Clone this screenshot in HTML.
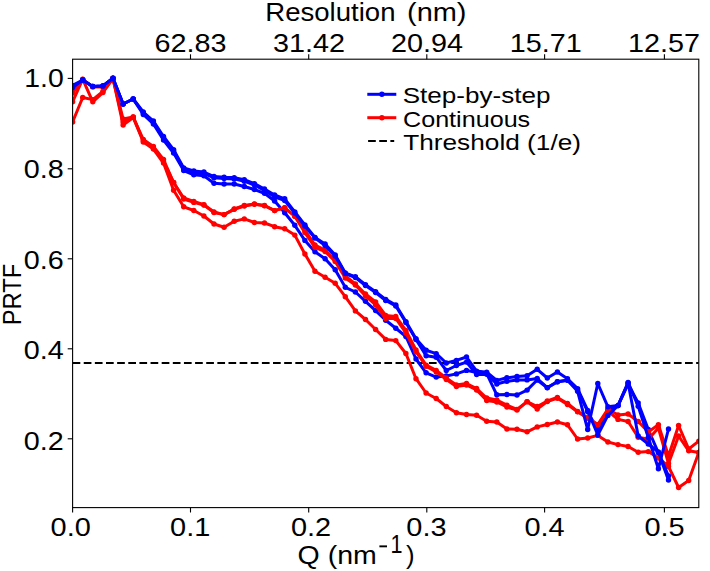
<!DOCTYPE html>
<html><head><meta charset="utf-8"><style>
html,body{margin:0;padding:0;background:#fff;width:710px;height:571px;overflow:hidden;font-family:"Liberation Sans",sans-serif;}
svg{display:block;}
</style></head><body>
<svg width="710" height="571" viewBox="0 0 710 571">
<rect width="710" height="571" fill="#fff"/>
<defs><clipPath id="c"><rect x="72.6" y="59.2" width="626.1999999999999" height="448.40000000000003"/></clipPath></defs>
<g clip-path="url(#c)">
<line x1="72.6" y1="363.0" x2="698.8" y2="363.0" stroke="#000" stroke-width="2.2" stroke-dasharray="7.7 3.435"/>
<polyline points="72.6,89.5 82.7,80.0 92.8,86.4 102.9,85.9 113.0,78.2 123.1,104.0 133.2,99.0 143.3,114.5 153.4,124.0 163.5,140.0 173.6,153.0 183.7,170.5 193.8,174.8 203.9,175.8 214.0,183.2 224.1,184.0 234.2,184.0 244.3,186.5 254.4,189.5 264.5,193.3 274.6,201.0 284.7,212.8 294.8,225.3 304.9,240.4 315.0,251.8 325.1,258.8 335.2,269.8 345.3,287.3 355.4,292.0 365.5,301.3 375.6,310.6 385.7,320.2 395.8,328.2 405.9,336.5 416.0,359.0 426.1,372.8 436.2,377.1 446.3,376.0 456.4,373.9 466.5,370.4 476.6,372.5 486.7,373.6 496.8,394.8 506.9,394.5 517.0,395.0 527.1,390.1 537.2,380.0 547.3,387.7 557.4,381.8 567.5,380.2 577.6,390.0 587.7,411.7 597.8,430.0 607.9,410.0 618.0,405.6 628.1,384.0 638.2,403.0 648.3,429.5 658.4,452.8 668.5,480.0" fill="none" stroke="#0000ff" stroke-width="3.0" stroke-linejoin="round" stroke-linecap="butt"/>
<circle cx="72.6" cy="89.5" r="2.7" fill="#0000ff"/><circle cx="82.7" cy="80.0" r="2.7" fill="#0000ff"/><circle cx="92.8" cy="86.4" r="2.7" fill="#0000ff"/><circle cx="102.9" cy="85.9" r="2.7" fill="#0000ff"/><circle cx="113.0" cy="78.2" r="2.7" fill="#0000ff"/><circle cx="123.1" cy="104.0" r="2.7" fill="#0000ff"/><circle cx="133.2" cy="99.0" r="2.7" fill="#0000ff"/><circle cx="143.3" cy="114.5" r="2.7" fill="#0000ff"/><circle cx="153.4" cy="124.0" r="2.7" fill="#0000ff"/><circle cx="163.5" cy="140.0" r="2.7" fill="#0000ff"/><circle cx="173.6" cy="153.0" r="2.7" fill="#0000ff"/><circle cx="183.7" cy="170.5" r="2.7" fill="#0000ff"/><circle cx="193.8" cy="174.8" r="2.7" fill="#0000ff"/><circle cx="203.9" cy="175.8" r="2.7" fill="#0000ff"/><circle cx="214.0" cy="183.2" r="2.7" fill="#0000ff"/><circle cx="224.1" cy="184.0" r="2.7" fill="#0000ff"/><circle cx="234.2" cy="184.0" r="2.7" fill="#0000ff"/><circle cx="244.3" cy="186.5" r="2.7" fill="#0000ff"/><circle cx="254.4" cy="189.5" r="2.7" fill="#0000ff"/><circle cx="264.5" cy="193.3" r="2.7" fill="#0000ff"/><circle cx="274.6" cy="201.0" r="2.7" fill="#0000ff"/><circle cx="284.7" cy="212.8" r="2.7" fill="#0000ff"/><circle cx="294.8" cy="225.3" r="2.7" fill="#0000ff"/><circle cx="304.9" cy="240.4" r="2.7" fill="#0000ff"/><circle cx="315.0" cy="251.8" r="2.7" fill="#0000ff"/><circle cx="325.1" cy="258.8" r="2.7" fill="#0000ff"/><circle cx="335.2" cy="269.8" r="2.7" fill="#0000ff"/><circle cx="345.3" cy="287.3" r="2.7" fill="#0000ff"/><circle cx="355.4" cy="292.0" r="2.7" fill="#0000ff"/><circle cx="365.5" cy="301.3" r="2.7" fill="#0000ff"/><circle cx="375.6" cy="310.6" r="2.7" fill="#0000ff"/><circle cx="385.7" cy="320.2" r="2.7" fill="#0000ff"/><circle cx="395.8" cy="328.2" r="2.7" fill="#0000ff"/><circle cx="405.9" cy="336.5" r="2.7" fill="#0000ff"/><circle cx="416.0" cy="359.0" r="2.7" fill="#0000ff"/><circle cx="426.1" cy="372.8" r="2.7" fill="#0000ff"/><circle cx="436.2" cy="377.1" r="2.7" fill="#0000ff"/><circle cx="446.3" cy="376.0" r="2.7" fill="#0000ff"/><circle cx="456.4" cy="373.9" r="2.7" fill="#0000ff"/><circle cx="466.5" cy="370.4" r="2.7" fill="#0000ff"/><circle cx="476.6" cy="372.5" r="2.7" fill="#0000ff"/><circle cx="486.7" cy="373.6" r="2.7" fill="#0000ff"/><circle cx="496.8" cy="394.8" r="2.7" fill="#0000ff"/><circle cx="506.9" cy="394.5" r="2.7" fill="#0000ff"/><circle cx="517.0" cy="395.0" r="2.7" fill="#0000ff"/><circle cx="527.1" cy="390.1" r="2.7" fill="#0000ff"/><circle cx="537.2" cy="380.0" r="2.7" fill="#0000ff"/><circle cx="547.3" cy="387.7" r="2.7" fill="#0000ff"/><circle cx="557.4" cy="381.8" r="2.7" fill="#0000ff"/><circle cx="567.5" cy="380.2" r="2.7" fill="#0000ff"/><circle cx="577.6" cy="390.0" r="2.7" fill="#0000ff"/><circle cx="587.7" cy="411.7" r="2.7" fill="#0000ff"/><circle cx="597.8" cy="430.0" r="2.7" fill="#0000ff"/><circle cx="607.9" cy="410.0" r="2.7" fill="#0000ff"/><circle cx="618.0" cy="405.6" r="2.7" fill="#0000ff"/><circle cx="628.1" cy="384.0" r="2.7" fill="#0000ff"/><circle cx="638.2" cy="403.0" r="2.7" fill="#0000ff"/><circle cx="648.3" cy="429.5" r="2.7" fill="#0000ff"/><circle cx="658.4" cy="452.8" r="2.7" fill="#0000ff"/><circle cx="668.5" cy="480.0" r="2.7" fill="#0000ff"/>
<polyline points="72.6,93.0 82.7,79.5 92.8,87.0 102.9,87.0 113.0,78.5 123.1,119.0 133.2,117.0 143.3,139.5 153.4,146.5 163.5,159.5 173.6,182.5 183.7,198.0 193.8,201.5 203.9,204.8 214.0,212.0 224.1,214.6 234.2,209.0 244.3,205.5 254.4,204.0 264.5,205.5 274.6,210.6 284.7,207.8 294.8,216.2 304.9,230.2 315.0,245.0 325.1,250.0 335.2,260.0 345.3,276.0 355.4,284.0 365.5,294.0 375.6,302.0 385.7,315.5 395.8,316.5 405.9,330.5 416.0,350.0 426.1,365.2 436.2,370.4 446.3,378.0 456.4,385.0 466.5,383.5 476.6,388.5 486.7,398.0 496.8,400.0 506.9,405.1 517.0,409.4 527.1,401.6 537.2,406.5 547.3,401.0 557.4,397.5 567.5,403.5 577.6,411.5 587.7,417.8 597.8,424.6 607.9,409.0 618.0,415.0 628.1,414.0 638.2,421.5 648.3,432.0 658.4,424.6 668.5,456.0 678.6,425.5 688.7,449.0 698.8,441.1 708.9,431.0" fill="none" stroke="#ff0000" stroke-width="3.0" stroke-linejoin="round" stroke-linecap="butt"/>
<circle cx="72.6" cy="93.0" r="2.7" fill="#ff0000"/><circle cx="82.7" cy="79.5" r="2.7" fill="#ff0000"/><circle cx="92.8" cy="87.0" r="2.7" fill="#ff0000"/><circle cx="102.9" cy="87.0" r="2.7" fill="#ff0000"/><circle cx="113.0" cy="78.5" r="2.7" fill="#ff0000"/><circle cx="123.1" cy="119.0" r="2.7" fill="#ff0000"/><circle cx="133.2" cy="117.0" r="2.7" fill="#ff0000"/><circle cx="143.3" cy="139.5" r="2.7" fill="#ff0000"/><circle cx="153.4" cy="146.5" r="2.7" fill="#ff0000"/><circle cx="163.5" cy="159.5" r="2.7" fill="#ff0000"/><circle cx="173.6" cy="182.5" r="2.7" fill="#ff0000"/><circle cx="183.7" cy="198.0" r="2.7" fill="#ff0000"/><circle cx="193.8" cy="201.5" r="2.7" fill="#ff0000"/><circle cx="203.9" cy="204.8" r="2.7" fill="#ff0000"/><circle cx="214.0" cy="212.0" r="2.7" fill="#ff0000"/><circle cx="224.1" cy="214.6" r="2.7" fill="#ff0000"/><circle cx="234.2" cy="209.0" r="2.7" fill="#ff0000"/><circle cx="244.3" cy="205.5" r="2.7" fill="#ff0000"/><circle cx="254.4" cy="204.0" r="2.7" fill="#ff0000"/><circle cx="264.5" cy="205.5" r="2.7" fill="#ff0000"/><circle cx="274.6" cy="210.6" r="2.7" fill="#ff0000"/><circle cx="284.7" cy="207.8" r="2.7" fill="#ff0000"/><circle cx="294.8" cy="216.2" r="2.7" fill="#ff0000"/><circle cx="304.9" cy="230.2" r="2.7" fill="#ff0000"/><circle cx="315.0" cy="245.0" r="2.7" fill="#ff0000"/><circle cx="325.1" cy="250.0" r="2.7" fill="#ff0000"/><circle cx="335.2" cy="260.0" r="2.7" fill="#ff0000"/><circle cx="345.3" cy="276.0" r="2.7" fill="#ff0000"/><circle cx="355.4" cy="284.0" r="2.7" fill="#ff0000"/><circle cx="365.5" cy="294.0" r="2.7" fill="#ff0000"/><circle cx="375.6" cy="302.0" r="2.7" fill="#ff0000"/><circle cx="385.7" cy="315.5" r="2.7" fill="#ff0000"/><circle cx="395.8" cy="316.5" r="2.7" fill="#ff0000"/><circle cx="405.9" cy="330.5" r="2.7" fill="#ff0000"/><circle cx="416.0" cy="350.0" r="2.7" fill="#ff0000"/><circle cx="426.1" cy="365.2" r="2.7" fill="#ff0000"/><circle cx="436.2" cy="370.4" r="2.7" fill="#ff0000"/><circle cx="446.3" cy="378.0" r="2.7" fill="#ff0000"/><circle cx="456.4" cy="385.0" r="2.7" fill="#ff0000"/><circle cx="466.5" cy="383.5" r="2.7" fill="#ff0000"/><circle cx="476.6" cy="388.5" r="2.7" fill="#ff0000"/><circle cx="486.7" cy="398.0" r="2.7" fill="#ff0000"/><circle cx="496.8" cy="400.0" r="2.7" fill="#ff0000"/><circle cx="506.9" cy="405.1" r="2.7" fill="#ff0000"/><circle cx="517.0" cy="409.4" r="2.7" fill="#ff0000"/><circle cx="527.1" cy="401.6" r="2.7" fill="#ff0000"/><circle cx="537.2" cy="406.5" r="2.7" fill="#ff0000"/><circle cx="547.3" cy="401.0" r="2.7" fill="#ff0000"/><circle cx="557.4" cy="397.5" r="2.7" fill="#ff0000"/><circle cx="567.5" cy="403.5" r="2.7" fill="#ff0000"/><circle cx="577.6" cy="411.5" r="2.7" fill="#ff0000"/><circle cx="587.7" cy="417.8" r="2.7" fill="#ff0000"/><circle cx="597.8" cy="424.6" r="2.7" fill="#ff0000"/><circle cx="607.9" cy="409.0" r="2.7" fill="#ff0000"/><circle cx="618.0" cy="415.0" r="2.7" fill="#ff0000"/><circle cx="628.1" cy="414.0" r="2.7" fill="#ff0000"/><circle cx="638.2" cy="421.5" r="2.7" fill="#ff0000"/><circle cx="648.3" cy="432.0" r="2.7" fill="#ff0000"/><circle cx="658.4" cy="424.6" r="2.7" fill="#ff0000"/><circle cx="668.5" cy="456.0" r="2.7" fill="#ff0000"/><circle cx="678.6" cy="425.5" r="2.7" fill="#ff0000"/><circle cx="688.7" cy="449.0" r="2.7" fill="#ff0000"/><circle cx="698.8" cy="441.1" r="2.7" fill="#ff0000"/><circle cx="708.9" cy="431.0" r="2.7" fill="#ff0000"/>
<polyline points="72.6,101.8 82.7,79.2 92.8,101.8 102.9,92.6 113.0,78.5 123.1,122.0 133.2,117.0 143.3,141.0 153.4,148.0 163.5,161.5 173.6,182.5 183.7,199.0 193.8,202.4 203.9,205.0 214.0,212.5 224.1,214.6 234.2,209.3 244.3,206.0 254.4,204.3 264.5,205.7 274.6,210.6 284.7,207.8 294.8,216.2 304.9,232.6 315.0,247.3 325.1,251.5 335.2,261.5 345.3,278.0 355.4,285.0 365.5,296.0 375.6,305.0 385.7,318.5 395.8,318.5 405.9,333.0 416.0,351.7 426.1,366.2 436.2,371.9 446.3,379.5 456.4,386.5 466.5,385.0 476.6,390.0 486.7,400.5 496.8,402.0 506.9,407.0 517.0,410.1 527.1,401.7 537.2,409.0 547.3,401.6 557.4,398.2 567.5,404.5 577.6,411.7 587.7,418.3 597.8,424.9 607.9,411.0 618.0,419.4 628.1,421.5 638.2,437.2 648.3,439.3 658.4,428.0 668.5,463.5 678.6,436.0 688.7,450.8 698.8,452.5 708.9,454.0" fill="none" stroke="#ff0000" stroke-width="3.0" stroke-linejoin="round" stroke-linecap="butt"/>
<circle cx="72.6" cy="101.8" r="2.7" fill="#ff0000"/><circle cx="82.7" cy="79.2" r="2.7" fill="#ff0000"/><circle cx="92.8" cy="101.8" r="2.7" fill="#ff0000"/><circle cx="102.9" cy="92.6" r="2.7" fill="#ff0000"/><circle cx="113.0" cy="78.5" r="2.7" fill="#ff0000"/><circle cx="123.1" cy="122.0" r="2.7" fill="#ff0000"/><circle cx="133.2" cy="117.0" r="2.7" fill="#ff0000"/><circle cx="143.3" cy="141.0" r="2.7" fill="#ff0000"/><circle cx="153.4" cy="148.0" r="2.7" fill="#ff0000"/><circle cx="163.5" cy="161.5" r="2.7" fill="#ff0000"/><circle cx="173.6" cy="182.5" r="2.7" fill="#ff0000"/><circle cx="183.7" cy="199.0" r="2.7" fill="#ff0000"/><circle cx="193.8" cy="202.4" r="2.7" fill="#ff0000"/><circle cx="203.9" cy="205.0" r="2.7" fill="#ff0000"/><circle cx="214.0" cy="212.5" r="2.7" fill="#ff0000"/><circle cx="224.1" cy="214.6" r="2.7" fill="#ff0000"/><circle cx="234.2" cy="209.3" r="2.7" fill="#ff0000"/><circle cx="244.3" cy="206.0" r="2.7" fill="#ff0000"/><circle cx="254.4" cy="204.3" r="2.7" fill="#ff0000"/><circle cx="264.5" cy="205.7" r="2.7" fill="#ff0000"/><circle cx="274.6" cy="210.6" r="2.7" fill="#ff0000"/><circle cx="284.7" cy="207.8" r="2.7" fill="#ff0000"/><circle cx="294.8" cy="216.2" r="2.7" fill="#ff0000"/><circle cx="304.9" cy="232.6" r="2.7" fill="#ff0000"/><circle cx="315.0" cy="247.3" r="2.7" fill="#ff0000"/><circle cx="325.1" cy="251.5" r="2.7" fill="#ff0000"/><circle cx="335.2" cy="261.5" r="2.7" fill="#ff0000"/><circle cx="345.3" cy="278.0" r="2.7" fill="#ff0000"/><circle cx="355.4" cy="285.0" r="2.7" fill="#ff0000"/><circle cx="365.5" cy="296.0" r="2.7" fill="#ff0000"/><circle cx="375.6" cy="305.0" r="2.7" fill="#ff0000"/><circle cx="385.7" cy="318.5" r="2.7" fill="#ff0000"/><circle cx="395.8" cy="318.5" r="2.7" fill="#ff0000"/><circle cx="405.9" cy="333.0" r="2.7" fill="#ff0000"/><circle cx="416.0" cy="351.7" r="2.7" fill="#ff0000"/><circle cx="426.1" cy="366.2" r="2.7" fill="#ff0000"/><circle cx="436.2" cy="371.9" r="2.7" fill="#ff0000"/><circle cx="446.3" cy="379.5" r="2.7" fill="#ff0000"/><circle cx="456.4" cy="386.5" r="2.7" fill="#ff0000"/><circle cx="466.5" cy="385.0" r="2.7" fill="#ff0000"/><circle cx="476.6" cy="390.0" r="2.7" fill="#ff0000"/><circle cx="486.7" cy="400.5" r="2.7" fill="#ff0000"/><circle cx="496.8" cy="402.0" r="2.7" fill="#ff0000"/><circle cx="506.9" cy="407.0" r="2.7" fill="#ff0000"/><circle cx="517.0" cy="410.1" r="2.7" fill="#ff0000"/><circle cx="527.1" cy="401.7" r="2.7" fill="#ff0000"/><circle cx="537.2" cy="409.0" r="2.7" fill="#ff0000"/><circle cx="547.3" cy="401.6" r="2.7" fill="#ff0000"/><circle cx="557.4" cy="398.2" r="2.7" fill="#ff0000"/><circle cx="567.5" cy="404.5" r="2.7" fill="#ff0000"/><circle cx="577.6" cy="411.7" r="2.7" fill="#ff0000"/><circle cx="587.7" cy="418.3" r="2.7" fill="#ff0000"/><circle cx="597.8" cy="424.9" r="2.7" fill="#ff0000"/><circle cx="607.9" cy="411.0" r="2.7" fill="#ff0000"/><circle cx="618.0" cy="419.4" r="2.7" fill="#ff0000"/><circle cx="628.1" cy="421.5" r="2.7" fill="#ff0000"/><circle cx="638.2" cy="437.2" r="2.7" fill="#ff0000"/><circle cx="648.3" cy="439.3" r="2.7" fill="#ff0000"/><circle cx="658.4" cy="428.0" r="2.7" fill="#ff0000"/><circle cx="668.5" cy="463.5" r="2.7" fill="#ff0000"/><circle cx="678.6" cy="436.0" r="2.7" fill="#ff0000"/><circle cx="688.7" cy="450.8" r="2.7" fill="#ff0000"/><circle cx="698.8" cy="452.5" r="2.7" fill="#ff0000"/><circle cx="708.9" cy="454.0" r="2.7" fill="#ff0000"/>
<polyline points="72.6,122.0 82.7,97.5 92.8,99.6 102.9,91.5 113.0,78.5 123.1,125.0 133.2,117.5 143.3,142.0 153.4,149.0 163.5,163.0 173.6,190.2 183.7,206.8 193.8,210.5 203.9,216.0 214.0,224.0 224.1,227.3 234.2,221.3 244.3,218.9 254.4,222.5 264.5,223.0 274.6,226.7 284.7,228.8 294.8,235.1 304.9,254.0 315.0,271.3 325.1,277.2 335.2,283.3 345.3,296.7 355.4,310.9 365.5,319.5 375.6,329.5 385.7,339.4 395.8,340.6 405.9,353.5 416.0,378.7 426.1,393.0 436.2,398.5 446.3,406.5 456.4,412.7 466.5,414.5 476.6,415.2 486.7,421.2 496.8,422.0 506.9,429.0 517.0,429.2 527.1,431.8 537.2,426.9 547.3,424.5 557.4,422.0 567.5,424.8 577.6,439.0 587.7,438.0 597.8,435.4 607.9,442.0 618.0,444.6 628.1,446.5 638.2,452.2 648.3,451.6 658.4,458.0 668.5,466.5 678.6,487.5 688.7,480.5 698.8,452.5 708.9,423.0" fill="none" stroke="#ff0000" stroke-width="3.0" stroke-linejoin="round" stroke-linecap="butt"/>
<circle cx="72.6" cy="122.0" r="2.7" fill="#ff0000"/><circle cx="82.7" cy="97.5" r="2.7" fill="#ff0000"/><circle cx="92.8" cy="99.6" r="2.7" fill="#ff0000"/><circle cx="102.9" cy="91.5" r="2.7" fill="#ff0000"/><circle cx="113.0" cy="78.5" r="2.7" fill="#ff0000"/><circle cx="123.1" cy="125.0" r="2.7" fill="#ff0000"/><circle cx="133.2" cy="117.5" r="2.7" fill="#ff0000"/><circle cx="143.3" cy="142.0" r="2.7" fill="#ff0000"/><circle cx="153.4" cy="149.0" r="2.7" fill="#ff0000"/><circle cx="163.5" cy="163.0" r="2.7" fill="#ff0000"/><circle cx="173.6" cy="190.2" r="2.7" fill="#ff0000"/><circle cx="183.7" cy="206.8" r="2.7" fill="#ff0000"/><circle cx="193.8" cy="210.5" r="2.7" fill="#ff0000"/><circle cx="203.9" cy="216.0" r="2.7" fill="#ff0000"/><circle cx="214.0" cy="224.0" r="2.7" fill="#ff0000"/><circle cx="224.1" cy="227.3" r="2.7" fill="#ff0000"/><circle cx="234.2" cy="221.3" r="2.7" fill="#ff0000"/><circle cx="244.3" cy="218.9" r="2.7" fill="#ff0000"/><circle cx="254.4" cy="222.5" r="2.7" fill="#ff0000"/><circle cx="264.5" cy="223.0" r="2.7" fill="#ff0000"/><circle cx="274.6" cy="226.7" r="2.7" fill="#ff0000"/><circle cx="284.7" cy="228.8" r="2.7" fill="#ff0000"/><circle cx="294.8" cy="235.1" r="2.7" fill="#ff0000"/><circle cx="304.9" cy="254.0" r="2.7" fill="#ff0000"/><circle cx="315.0" cy="271.3" r="2.7" fill="#ff0000"/><circle cx="325.1" cy="277.2" r="2.7" fill="#ff0000"/><circle cx="335.2" cy="283.3" r="2.7" fill="#ff0000"/><circle cx="345.3" cy="296.7" r="2.7" fill="#ff0000"/><circle cx="355.4" cy="310.9" r="2.7" fill="#ff0000"/><circle cx="365.5" cy="319.5" r="2.7" fill="#ff0000"/><circle cx="375.6" cy="329.5" r="2.7" fill="#ff0000"/><circle cx="385.7" cy="339.4" r="2.7" fill="#ff0000"/><circle cx="395.8" cy="340.6" r="2.7" fill="#ff0000"/><circle cx="405.9" cy="353.5" r="2.7" fill="#ff0000"/><circle cx="416.0" cy="378.7" r="2.7" fill="#ff0000"/><circle cx="426.1" cy="393.0" r="2.7" fill="#ff0000"/><circle cx="436.2" cy="398.5" r="2.7" fill="#ff0000"/><circle cx="446.3" cy="406.5" r="2.7" fill="#ff0000"/><circle cx="456.4" cy="412.7" r="2.7" fill="#ff0000"/><circle cx="466.5" cy="414.5" r="2.7" fill="#ff0000"/><circle cx="476.6" cy="415.2" r="2.7" fill="#ff0000"/><circle cx="486.7" cy="421.2" r="2.7" fill="#ff0000"/><circle cx="496.8" cy="422.0" r="2.7" fill="#ff0000"/><circle cx="506.9" cy="429.0" r="2.7" fill="#ff0000"/><circle cx="517.0" cy="429.2" r="2.7" fill="#ff0000"/><circle cx="527.1" cy="431.8" r="2.7" fill="#ff0000"/><circle cx="537.2" cy="426.9" r="2.7" fill="#ff0000"/><circle cx="547.3" cy="424.5" r="2.7" fill="#ff0000"/><circle cx="557.4" cy="422.0" r="2.7" fill="#ff0000"/><circle cx="567.5" cy="424.8" r="2.7" fill="#ff0000"/><circle cx="577.6" cy="439.0" r="2.7" fill="#ff0000"/><circle cx="587.7" cy="438.0" r="2.7" fill="#ff0000"/><circle cx="597.8" cy="435.4" r="2.7" fill="#ff0000"/><circle cx="607.9" cy="442.0" r="2.7" fill="#ff0000"/><circle cx="618.0" cy="444.6" r="2.7" fill="#ff0000"/><circle cx="628.1" cy="446.5" r="2.7" fill="#ff0000"/><circle cx="638.2" cy="452.2" r="2.7" fill="#ff0000"/><circle cx="648.3" cy="451.6" r="2.7" fill="#ff0000"/><circle cx="658.4" cy="458.0" r="2.7" fill="#ff0000"/><circle cx="668.5" cy="466.5" r="2.7" fill="#ff0000"/><circle cx="678.6" cy="487.5" r="2.7" fill="#ff0000"/><circle cx="688.7" cy="480.5" r="2.7" fill="#ff0000"/><circle cx="698.8" cy="452.5" r="2.7" fill="#ff0000"/><circle cx="708.9" cy="423.0" r="2.7" fill="#ff0000"/>
<polyline points="72.6,85.5 82.7,80.0 92.8,86.4 102.9,85.9 113.0,78.2 123.1,104.0 133.2,99.0 143.3,112.0 153.4,121.0 163.5,136.5 173.6,149.6 183.7,168.0 193.8,170.9 203.9,172.0 214.0,176.5 224.1,177.3 234.2,177.6 244.3,179.7 254.4,183.6 264.5,189.0 274.6,195.0 284.7,198.8 294.8,212.0 304.9,224.9 315.0,237.5 325.1,244.0 335.2,255.0 345.3,273.0 355.4,276.8 365.5,284.7 375.6,291.7 385.7,299.4 395.8,305.0 405.9,321.6 416.0,338.8 426.1,350.3 436.2,353.6 446.3,363.0 456.4,360.4 466.5,357.0 476.6,371.1 486.7,372.2 496.8,380.4 506.9,377.8 517.0,376.4 527.1,375.7 537.2,369.3 547.3,378.0 557.4,372.0 567.5,378.7 577.6,388.6 587.7,410.5 597.8,435.0 607.9,415.4 618.0,405.6 628.1,382.4 638.2,406.2 648.3,437.5 658.4,468.7 668.5,429.0" fill="none" stroke="#0000ff" stroke-width="3.0" stroke-linejoin="round" stroke-linecap="butt"/>
<circle cx="72.6" cy="85.5" r="2.7" fill="#0000ff"/><circle cx="82.7" cy="80.0" r="2.7" fill="#0000ff"/><circle cx="92.8" cy="86.4" r="2.7" fill="#0000ff"/><circle cx="102.9" cy="85.9" r="2.7" fill="#0000ff"/><circle cx="113.0" cy="78.2" r="2.7" fill="#0000ff"/><circle cx="123.1" cy="104.0" r="2.7" fill="#0000ff"/><circle cx="133.2" cy="99.0" r="2.7" fill="#0000ff"/><circle cx="143.3" cy="112.0" r="2.7" fill="#0000ff"/><circle cx="153.4" cy="121.0" r="2.7" fill="#0000ff"/><circle cx="163.5" cy="136.5" r="2.7" fill="#0000ff"/><circle cx="173.6" cy="149.6" r="2.7" fill="#0000ff"/><circle cx="183.7" cy="168.0" r="2.7" fill="#0000ff"/><circle cx="193.8" cy="170.9" r="2.7" fill="#0000ff"/><circle cx="203.9" cy="172.0" r="2.7" fill="#0000ff"/><circle cx="214.0" cy="176.5" r="2.7" fill="#0000ff"/><circle cx="224.1" cy="177.3" r="2.7" fill="#0000ff"/><circle cx="234.2" cy="177.6" r="2.7" fill="#0000ff"/><circle cx="244.3" cy="179.7" r="2.7" fill="#0000ff"/><circle cx="254.4" cy="183.6" r="2.7" fill="#0000ff"/><circle cx="264.5" cy="189.0" r="2.7" fill="#0000ff"/><circle cx="274.6" cy="195.0" r="2.7" fill="#0000ff"/><circle cx="284.7" cy="198.8" r="2.7" fill="#0000ff"/><circle cx="294.8" cy="212.0" r="2.7" fill="#0000ff"/><circle cx="304.9" cy="224.9" r="2.7" fill="#0000ff"/><circle cx="315.0" cy="237.5" r="2.7" fill="#0000ff"/><circle cx="325.1" cy="244.0" r="2.7" fill="#0000ff"/><circle cx="335.2" cy="255.0" r="2.7" fill="#0000ff"/><circle cx="345.3" cy="273.0" r="2.7" fill="#0000ff"/><circle cx="355.4" cy="276.8" r="2.7" fill="#0000ff"/><circle cx="365.5" cy="284.7" r="2.7" fill="#0000ff"/><circle cx="375.6" cy="291.7" r="2.7" fill="#0000ff"/><circle cx="385.7" cy="299.4" r="2.7" fill="#0000ff"/><circle cx="395.8" cy="305.0" r="2.7" fill="#0000ff"/><circle cx="405.9" cy="321.6" r="2.7" fill="#0000ff"/><circle cx="416.0" cy="338.8" r="2.7" fill="#0000ff"/><circle cx="426.1" cy="350.3" r="2.7" fill="#0000ff"/><circle cx="436.2" cy="353.6" r="2.7" fill="#0000ff"/><circle cx="446.3" cy="363.0" r="2.7" fill="#0000ff"/><circle cx="456.4" cy="360.4" r="2.7" fill="#0000ff"/><circle cx="466.5" cy="357.0" r="2.7" fill="#0000ff"/><circle cx="476.6" cy="371.1" r="2.7" fill="#0000ff"/><circle cx="486.7" cy="372.2" r="2.7" fill="#0000ff"/><circle cx="496.8" cy="380.4" r="2.7" fill="#0000ff"/><circle cx="506.9" cy="377.8" r="2.7" fill="#0000ff"/><circle cx="517.0" cy="376.4" r="2.7" fill="#0000ff"/><circle cx="527.1" cy="375.7" r="2.7" fill="#0000ff"/><circle cx="537.2" cy="369.3" r="2.7" fill="#0000ff"/><circle cx="547.3" cy="378.0" r="2.7" fill="#0000ff"/><circle cx="557.4" cy="372.0" r="2.7" fill="#0000ff"/><circle cx="567.5" cy="378.7" r="2.7" fill="#0000ff"/><circle cx="577.6" cy="388.6" r="2.7" fill="#0000ff"/><circle cx="587.7" cy="410.5" r="2.7" fill="#0000ff"/><circle cx="597.8" cy="435.0" r="2.7" fill="#0000ff"/><circle cx="607.9" cy="415.4" r="2.7" fill="#0000ff"/><circle cx="618.0" cy="405.6" r="2.7" fill="#0000ff"/><circle cx="628.1" cy="382.4" r="2.7" fill="#0000ff"/><circle cx="638.2" cy="406.2" r="2.7" fill="#0000ff"/><circle cx="648.3" cy="437.5" r="2.7" fill="#0000ff"/><circle cx="658.4" cy="468.7" r="2.7" fill="#0000ff"/><circle cx="668.5" cy="429.0" r="2.7" fill="#0000ff"/>
<polyline points="72.6,87.5 82.7,80.0 92.8,86.4 102.9,85.9 113.0,78.2 123.1,104.0 133.2,99.0 143.3,113.0 153.4,122.0 163.5,137.5 173.6,151.0 183.7,169.0 193.8,172.3 203.9,173.4 214.0,177.8 224.1,178.6 234.2,178.9 244.3,181.2 254.4,185.1 264.5,190.5 274.6,196.8 284.7,200.5 294.8,213.0 304.9,226.0 315.0,238.0 325.1,245.5 335.2,256.0 345.3,273.5 355.4,277.5 365.5,285.5 375.6,292.5 385.7,300.5 395.8,306.0 405.9,322.5 416.0,339.5 426.1,355.8 436.2,357.2 446.3,370.5 456.4,365.5 466.5,362.1 476.6,374.6 486.7,374.3 496.8,384.0 506.9,381.3 517.0,379.9 527.1,379.9 537.2,378.5 547.3,387.6 557.4,381.8 567.5,380.2 577.6,391.3 587.7,429.5 597.8,383.5 607.9,406.8 618.0,405.6 628.1,383.0 638.2,436.0 648.3,444.0 658.4,452.0 668.5,476.0" fill="none" stroke="#0000ff" stroke-width="3.0" stroke-linejoin="round" stroke-linecap="butt"/>
<circle cx="72.6" cy="87.5" r="2.7" fill="#0000ff"/><circle cx="82.7" cy="80.0" r="2.7" fill="#0000ff"/><circle cx="92.8" cy="86.4" r="2.7" fill="#0000ff"/><circle cx="102.9" cy="85.9" r="2.7" fill="#0000ff"/><circle cx="113.0" cy="78.2" r="2.7" fill="#0000ff"/><circle cx="123.1" cy="104.0" r="2.7" fill="#0000ff"/><circle cx="133.2" cy="99.0" r="2.7" fill="#0000ff"/><circle cx="143.3" cy="113.0" r="2.7" fill="#0000ff"/><circle cx="153.4" cy="122.0" r="2.7" fill="#0000ff"/><circle cx="163.5" cy="137.5" r="2.7" fill="#0000ff"/><circle cx="173.6" cy="151.0" r="2.7" fill="#0000ff"/><circle cx="183.7" cy="169.0" r="2.7" fill="#0000ff"/><circle cx="193.8" cy="172.3" r="2.7" fill="#0000ff"/><circle cx="203.9" cy="173.4" r="2.7" fill="#0000ff"/><circle cx="214.0" cy="177.8" r="2.7" fill="#0000ff"/><circle cx="224.1" cy="178.6" r="2.7" fill="#0000ff"/><circle cx="234.2" cy="178.9" r="2.7" fill="#0000ff"/><circle cx="244.3" cy="181.2" r="2.7" fill="#0000ff"/><circle cx="254.4" cy="185.1" r="2.7" fill="#0000ff"/><circle cx="264.5" cy="190.5" r="2.7" fill="#0000ff"/><circle cx="274.6" cy="196.8" r="2.7" fill="#0000ff"/><circle cx="284.7" cy="200.5" r="2.7" fill="#0000ff"/><circle cx="294.8" cy="213.0" r="2.7" fill="#0000ff"/><circle cx="304.9" cy="226.0" r="2.7" fill="#0000ff"/><circle cx="315.0" cy="238.0" r="2.7" fill="#0000ff"/><circle cx="325.1" cy="245.5" r="2.7" fill="#0000ff"/><circle cx="335.2" cy="256.0" r="2.7" fill="#0000ff"/><circle cx="345.3" cy="273.5" r="2.7" fill="#0000ff"/><circle cx="355.4" cy="277.5" r="2.7" fill="#0000ff"/><circle cx="365.5" cy="285.5" r="2.7" fill="#0000ff"/><circle cx="375.6" cy="292.5" r="2.7" fill="#0000ff"/><circle cx="385.7" cy="300.5" r="2.7" fill="#0000ff"/><circle cx="395.8" cy="306.0" r="2.7" fill="#0000ff"/><circle cx="405.9" cy="322.5" r="2.7" fill="#0000ff"/><circle cx="416.0" cy="339.5" r="2.7" fill="#0000ff"/><circle cx="426.1" cy="355.8" r="2.7" fill="#0000ff"/><circle cx="436.2" cy="357.2" r="2.7" fill="#0000ff"/><circle cx="446.3" cy="370.5" r="2.7" fill="#0000ff"/><circle cx="456.4" cy="365.5" r="2.7" fill="#0000ff"/><circle cx="466.5" cy="362.1" r="2.7" fill="#0000ff"/><circle cx="476.6" cy="374.6" r="2.7" fill="#0000ff"/><circle cx="486.7" cy="374.3" r="2.7" fill="#0000ff"/><circle cx="496.8" cy="384.0" r="2.7" fill="#0000ff"/><circle cx="506.9" cy="381.3" r="2.7" fill="#0000ff"/><circle cx="517.0" cy="379.9" r="2.7" fill="#0000ff"/><circle cx="527.1" cy="379.9" r="2.7" fill="#0000ff"/><circle cx="537.2" cy="378.5" r="2.7" fill="#0000ff"/><circle cx="547.3" cy="387.6" r="2.7" fill="#0000ff"/><circle cx="557.4" cy="381.8" r="2.7" fill="#0000ff"/><circle cx="567.5" cy="380.2" r="2.7" fill="#0000ff"/><circle cx="577.6" cy="391.3" r="2.7" fill="#0000ff"/><circle cx="587.7" cy="429.5" r="2.7" fill="#0000ff"/><circle cx="597.8" cy="383.5" r="2.7" fill="#0000ff"/><circle cx="607.9" cy="406.8" r="2.7" fill="#0000ff"/><circle cx="618.0" cy="405.6" r="2.7" fill="#0000ff"/><circle cx="628.1" cy="383.0" r="2.7" fill="#0000ff"/><circle cx="638.2" cy="436.0" r="2.7" fill="#0000ff"/><circle cx="648.3" cy="444.0" r="2.7" fill="#0000ff"/><circle cx="658.4" cy="452.0" r="2.7" fill="#0000ff"/><circle cx="668.5" cy="476.0" r="2.7" fill="#0000ff"/>

</g>
<rect x="72.6" y="59.2" width="626.2" height="448.4" fill="none" stroke="#000" stroke-width="1.1"/>
<line x1="72.6" y1="507.6" x2="72.6" y2="512.5" stroke="#000" stroke-width="1.1"/><line x1="190.5" y1="507.6" x2="190.5" y2="512.5" stroke="#000" stroke-width="1.1"/><line x1="308.7" y1="507.6" x2="308.7" y2="512.5" stroke="#000" stroke-width="1.1"/><line x1="426.8" y1="507.6" x2="426.8" y2="512.5" stroke="#000" stroke-width="1.1"/><line x1="544.6" y1="507.6" x2="544.6" y2="512.5" stroke="#000" stroke-width="1.1"/><line x1="664.4" y1="507.6" x2="664.4" y2="512.5" stroke="#000" stroke-width="1.1"/><line x1="190.5" y1="59.2" x2="190.5" y2="54.300000000000004" stroke="#000" stroke-width="1.1"/><line x1="308.7" y1="59.2" x2="308.7" y2="54.300000000000004" stroke="#000" stroke-width="1.1"/><line x1="426.8" y1="59.2" x2="426.8" y2="54.300000000000004" stroke="#000" stroke-width="1.1"/><line x1="544.6" y1="59.2" x2="544.6" y2="54.300000000000004" stroke="#000" stroke-width="1.1"/><line x1="664.4" y1="59.2" x2="664.4" y2="54.300000000000004" stroke="#000" stroke-width="1.1"/><line x1="72.6" y1="438.8" x2="67.69999999999999" y2="438.8" stroke="#000" stroke-width="1.1"/><line x1="72.6" y1="348.8" x2="67.69999999999999" y2="348.8" stroke="#000" stroke-width="1.1"/><line x1="72.6" y1="258.8" x2="67.69999999999999" y2="258.8" stroke="#000" stroke-width="1.1"/><line x1="72.6" y1="168.8" x2="67.69999999999999" y2="168.8" stroke="#000" stroke-width="1.1"/><line x1="72.6" y1="78.4" x2="67.69999999999999" y2="78.4" stroke="#000" stroke-width="1.1"/>
<g font-family="Liberation Sans, sans-serif" font-size="26.2" fill="#000">
<text x="63.8" y="450.0" text-anchor="end" textLength="40.0" lengthAdjust="spacingAndGlyphs">0.2</text><text x="63.8" y="359.4" text-anchor="end" textLength="40.0" lengthAdjust="spacingAndGlyphs">0.4</text><text x="63.8" y="268.6" text-anchor="end" textLength="40.0" lengthAdjust="spacingAndGlyphs">0.6</text><text x="63.8" y="177.9" text-anchor="end" textLength="40.0" lengthAdjust="spacingAndGlyphs">0.8</text><text x="63.8" y="87.3" text-anchor="end" textLength="39.5" lengthAdjust="spacingAndGlyphs">1.0</text><text x="70.7" y="535.5" text-anchor="middle" textLength="40.2" lengthAdjust="spacingAndGlyphs">0.0</text><text x="190.2" y="535.5" text-anchor="middle" textLength="40.2" lengthAdjust="spacingAndGlyphs">0.1</text><text x="311.0" y="535.5" text-anchor="middle" textLength="40.2" lengthAdjust="spacingAndGlyphs">0.2</text><text x="426.4" y="535.5" text-anchor="middle" textLength="40.2" lengthAdjust="spacingAndGlyphs">0.3</text><text x="544.6" y="535.5" text-anchor="middle" textLength="40.2" lengthAdjust="spacingAndGlyphs">0.4</text><text x="664.5" y="535.5" text-anchor="middle" textLength="40.2" lengthAdjust="spacingAndGlyphs">0.5</text><text x="190.5" y="51.8" text-anchor="middle" textLength="72.0" lengthAdjust="spacingAndGlyphs">62.83</text><text x="308.9" y="51.8" text-anchor="middle" textLength="72.0" lengthAdjust="spacingAndGlyphs">31.42</text><text x="427.0" y="51.8" text-anchor="middle" textLength="72.0" lengthAdjust="spacingAndGlyphs">20.94</text><text x="545.8" y="51.8" text-anchor="middle" textLength="72.0" lengthAdjust="spacingAndGlyphs">15.71</text><text x="664.1" y="51.8" text-anchor="middle" textLength="72.0" lengthAdjust="spacingAndGlyphs">12.57</text><text x="265.3" y="20.7" textLength="130.2" lengthAdjust="spacingAndGlyphs">Resolution</text><text x="407.0" y="20.7" textLength="59.5" lengthAdjust="spacingAndGlyphs">(nm)</text><text transform="translate(21.3,294.6) rotate(-90)" x="0" y="0" text-anchor="middle" textLength="61.5" lengthAdjust="spacingAndGlyphs">PRTF</text><text x="297.6" y="563.6" textLength="79.2" lengthAdjust="spacingAndGlyphs">Q (nm</text><rect x="379.4" y="545.4" width="7.6" height="1.9" fill="#000"/><text x="390.6" y="553.4" textLength="12.0" lengthAdjust="spacingAndGlyphs">1</text><text x="406.0" y="563.6" textLength="8.6" lengthAdjust="spacingAndGlyphs">)</text>
<line x1="367.3" y1="94.3" x2="396.3" y2="94.3" stroke="#0000ff" stroke-width="3.0"/><circle cx="381.9" cy="94.3" r="2.7" fill="#0000ff"/><line x1="367.3" y1="117.7" x2="396.3" y2="117.7" stroke="#ff0000" stroke-width="3.0"/><circle cx="381.9" cy="117.7" r="2.7" fill="#ff0000"/><line x1="368.1" y1="141" x2="394.2" y2="141" stroke="#000" stroke-width="2.2" stroke-dasharray="7.7 3.435"/><text x="402.7" y="102.6" font-size="22.4" textLength="147.8" lengthAdjust="spacingAndGlyphs">Step-by-step</text><text x="403.0" y="126.5" font-size="22.4" textLength="127.2" lengthAdjust="spacingAndGlyphs">Continuous</text><text x="403.2" y="150.2" font-size="22.4" textLength="177.8" lengthAdjust="spacingAndGlyphs">Threshold (1/e)</text>
</g>
</svg>
</body></html>
